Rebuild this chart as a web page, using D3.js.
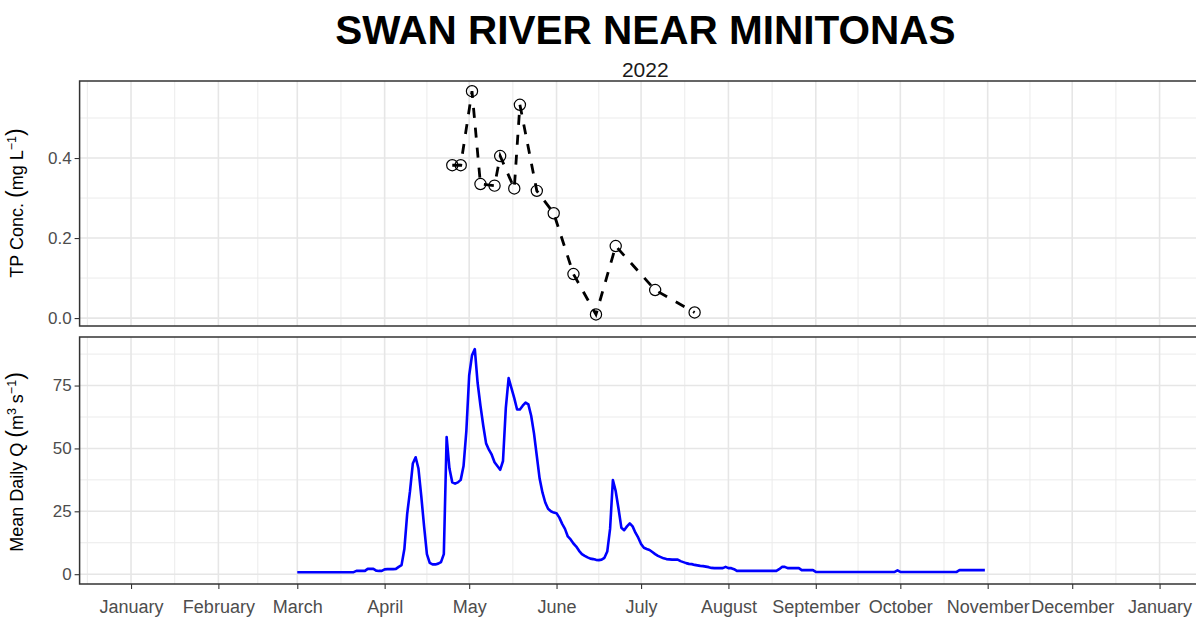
<!DOCTYPE html>
<html>
<head>
<meta charset="utf-8">
<script src="https://d3js.org/d3.v7.min.js"></script>
<style>
  body { margin: 0; background: #fff; }
  text { font-family: "Liberation Sans", Arial, sans-serif; }
</style>
</head>
<body>
<div id="chart"></div>
<script>

// TP samples (mg/L)
var tpDates = ["2022-04-25", "2022-04-28", "2022-05-02", "2022-05-05", "2022-05-10",
  "2022-05-12", "2022-05-17", "2022-05-19", "2022-05-25", "2022-05-31", "2022-06-07",
  "2022-06-15", "2022-06-22", "2022-07-06", "2022-07-20"];
var tpValues = [0.382, 0.382, 0.567, 0.335, 0.331, 0.405, 0.324, 0.533, 0.318, 0.262,
  0.110, 0.009, 0.180, 0.070, 0.014];

// mean daily flow, one value per day starting 1 March 2022 (m3/s)
var flowStart = "2022-03-01";
var flowValues = [
  0.8, 0.8, 0.8, 0.8, 0.8, 0.8, 0.8, 0.8, 0.8, 0.8, 0.8, 0.8, 0.8, 0.8, 0.8, 0.8, 0.8, 0.8, 0.8, 0.8, 0.8,
  1.3, 1.3, 1.3, 1.3, 2.1, 2.1, 2.1, 1.4, 1.3, 1.3, 1.9, 2.0, 2.0, 2.0, 2.1,
  2.9, 3.6, 10, 24, 33, 44, 46.5, 42, 31, 19, 8, 4.5, 3.9, 3.9, 4.2, 4.8, 8, 54.5, 42, 36.5,
  36, 36.5, 37.5, 43, 57, 79, 87, 89.5, 76, 67, 59, 52, 49.5, 47.5, 44.5, 43, 41.5, 45,
  66, 78, 74, 70, 65.5, 65.5, 67, 68.2, 67.5, 63, 56, 47, 38, 32.5, 28.5, 26, 25, 24.5,
  24.2, 22.5, 20, 18, 15, 13.8, 12.2, 11, 9.3, 8, 7.3, 6.7, 6.2, 6, 5.7, 5.6, 5.8, 6.5,
  9, 18, 37.4, 33, 26, 18.5, 17.5, 19, 20.2, 19, 16.5, 14.5, 12, 10.5, 10, 9.6, 8.8, 8,
  7.3, 6.8, 6.3, 6, 5.9, 5.8, 5.8, 5.8, 5.2, 4.8, 4.4, 4.1, 4.0, 3.7, 3.5, 3.3, 3.2, 3.0,
  2.8, 2.5, 2.4, 2.4, 2.4, 2.4, 2.9, 2.4, 2.4, 2.0,
  1.3, 1.3, 1.3, 1.3, 1.3, 1.3, 1.3, 1.3, 1.3, 1.3, 1.3, 1.3, 1.3, 1.3, 1.3,
  2.0, 2.9, 2.9, 2.4, 2.4, 2.4, 2.4, 2.4, 1.6, 1.6, 1.6, 1.6, 1.6,
  0.9, 0.9, 0.9, 0.9, 0.9, 0.9, 0.9, 0.9, 0.9, 0.9, 0.9, 0.9, 0.9, 0.9, 0.9, 0.9, 0.9, 0.9, 0.9, 0.9,
  0.9, 0.9, 0.9, 0.9, 0.9, 0.9, 0.9, 0.9, 0.9,
  1.5,
  0.9, 0.9, 0.9, 0.9, 0.9, 0.9, 0.9, 0.9, 0.9, 0.9, 0.9, 0.9, 0.9, 0.9, 0.9, 0.9, 0.9, 0.9, 0.9, 0.9, 0.9,
  1.6, 1.6, 1.6, 1.6, 1.6, 1.6, 1.6, 1.6, 1.6, 1.6
];

var monthTicks = ["2022-01-01", "2022-02-01", "2022-03-01", "2022-04-01", "2022-05-01", "2022-06-01",
  "2022-07-01", "2022-08-01", "2022-09-01", "2022-10-01", "2022-11-01", "2022-12-01", "2023-01-01"];
var tpTicks = [0, 0.2, 0.4];
var tpMinor = [0.1, 0.3, 0.5];
var flowTicks = [0, 25, 50, 75];
var flowMinor = [12.5, 37.5, 62.5, 87.5];

var W = 1196, H = 621;
var parse = d3.timeParse("%Y-%m-%d");
var dayMs = 864e5;

var tp = tpDates.map(function(d, i) { return {date: parse(d), v: tpValues[i]}; });
var start = parse(flowStart);
var flow = flowValues.map(function(v, i) { return {date: d3.timeDay.offset(start, i), v: v}; });

var majors = monthTicks.map(parse);
// minor breaks half way between the month breaks
var minors = [];
for (var i = 0; i < majors.length - 1; i++) {
  minors.push(new Date((+majors[i] + +majors[i + 1]) / 2));
}
minors.unshift(new Date(+majors[0] - 15.5 * dayMs));
minors.push(new Date(+majors[majors.length - 1] + 15.5 * dayMs));

var pad = 18.25 * dayMs;
var x = d3.scaleTime()
  .domain([new Date(+majors[0] - pad), new Date(+majors[majors.length - 1] + pad)])
  .range([79.6, 1211]);

var top1 = {y0: 81, y1: 326};
var bot = {y0: 337, y1: 584};

var yTP = d3.scaleLinear().domain([-0.0198, 0.5925]).range([326, 81]);
var yQ = d3.scaleLinear().domain([-3.9, 94.3]).range([584, 337]);

var svg = d3.select("#chart")
  .append("svg")
    .attr("width", W)
    .attr("height", H)
    .style("display", "block");

svg.append("rect").attr("width", W).attr("height", H).attr("fill", "#fff");

function panel(p, y, ticks, minor, fmt) {
  var g = svg.append("g");
  var xl = x.range()[0], xr = x.range()[1];
  g.selectAll(".ymin").data(minor).enter().append("line")
    .attr("x1", xl).attr("x2", xr)
    .attr("y1", function(d) { return y(d); }).attr("y2", function(d) { return y(d); })
    .attr("stroke", "#ebebeb").attr("stroke-width", 1);
  g.selectAll(".xmin").data(minors).enter().append("line")
    .attr("y1", p.y0).attr("y2", p.y1)
    .attr("x1", function(d) { return x(d); }).attr("x2", function(d) { return x(d); })
    .attr("stroke", "#ebebeb").attr("stroke-width", 1);
  g.selectAll(".ymaj").data(ticks).enter().append("line")
    .attr("x1", xl).attr("x2", xr)
    .attr("y1", function(d) { return y(d); }).attr("y2", function(d) { return y(d); })
    .attr("stroke", "#e6e6e6").attr("stroke-width", 1.6);
  g.selectAll(".xmaj").data(majors).enter().append("line")
    .attr("y1", p.y0).attr("y2", p.y1)
    .attr("x1", function(d) { return x(d); }).attr("x2", function(d) { return x(d); })
    .attr("stroke", "#e6e6e6").attr("stroke-width", 1.6);

  // y axis
  var ax = g.append("g")
    .attr("transform", "translate(" + xl + ",0)")
    .call(d3.axisLeft(y).tickValues(ticks).tickSize(5).tickPadding(3).tickFormat(fmt));
  ax.select(".domain").remove();
  ax.selectAll("line").attr("stroke", "#333").attr("stroke-width", 1.1);
  ax.selectAll("text").attr("fill", "#4d4d4d").style("font-size", "17px")
    .style("font-family", "Liberation Sans, Arial, sans-serif");
  return g;
}

panel(top1, yTP, tpTicks, tpMinor, d3.format(".1f"));
panel(bot, yQ, flowTicks, flowMinor, d3.format("d"));

// TP dashed line and open circles
svg.append("path")
  .datum(tp)
  .attr("fill", "none")
  .attr("stroke", "#000")
  .attr("stroke-width", 2.8)
  .attr("stroke-dasharray", "10,10")
  .attr("d", d3.line().x(function(d) { return x(d.date); }).y(function(d) { return yTP(d.v); }));

svg.selectAll(".tp")
  .data(tp)
  .enter()
  .append("circle")
    .attr("cx", function(d) { return x(d.date); })
    .attr("cy", function(d) { return yTP(d.v); })
    .attr("r", 5.6)
    .attr("fill", "none")
    .attr("stroke", "#000")
    .attr("stroke-width", 1.2);

// flow line
svg.append("path")
  .datum(flow)
  .attr("fill", "none")
  .attr("stroke", "#0000ff")
  .attr("stroke-width", 2.6)
  .attr("stroke-linejoin", "round")
  .attr("d", d3.line().x(function(d) { return x(d.date); }).y(function(d) { return yQ(d.v); }));

// panel borders
[top1, bot].forEach(function(p) {
  svg.append("rect")
    .attr("x", x.range()[0]).attr("y", p.y0)
    .attr("width", x.range()[1] - x.range()[0]).attr("height", p.y1 - p.y0)
    .attr("fill", "none").attr("stroke", "#333").attr("stroke-width", 1.5);
});

// x axis on the lower panel only
var xa = svg.append("g")
  .attr("transform", "translate(0," + bot.y1 + ")")
  .call(d3.axisBottom(x).tickValues(majors).tickSize(5).tickPadding(11).tickFormat(d3.timeFormat("%B")));
xa.select(".domain").remove();
xa.selectAll("line").attr("stroke", "#333").attr("stroke-width", 1.1);
xa.selectAll("text").attr("fill", "#4d4d4d").style("font-size", "18px")
  .style("font-family", "Liberation Sans, Arial, sans-serif");

// titles
svg.append("text")
  .attr("x", (x.range()[0] + x.range()[1]) / 2)
  .attr("y", 44)
  .attr("text-anchor", "middle")
  .style("font-size", "40.5px")
  .style("font-weight", "bold")
  .text("SWAN RIVER NEAR MINITONAS");

svg.append("text")
  .attr("x", (x.range()[0] + x.range()[1]) / 2)
  .attr("y", 77)
  .attr("text-anchor", "middle")
  .attr("fill", "#1a1a1a")
  .style("font-size", "21px")
  .text("2022");

// axis titles with superscripts
function yTitle(cy, parts) {
  var t = svg.append("text")
    .attr("transform", "translate(23," + cy + ") rotate(-90)")
    .attr("text-anchor", "middle")
    .attr("fill", "#000")
    .style("font-size", "18px");
  parts.forEach(function(p) {
    var s = t.append("tspan").text(p[0]);
    if (p[1] == "sup") s.attr("baseline-shift", "super").style("font-size", "12.5px");
    if (p[1] == "par") s.style("font-size", "23px");
  });
}

yTitle(203, [["TP Conc. ", ""], ["(", "par"], ["mg L", ""], ["\u22121", "sup"], [")", "par"]]);
yTitle(462, [["Mean Daily Q ", ""], ["(", "par"], ["m", ""], ["3", "sup"], [" s", ""], ["\u22121", "sup"], [")", "par"]]);

</script>
</body>
</html>
